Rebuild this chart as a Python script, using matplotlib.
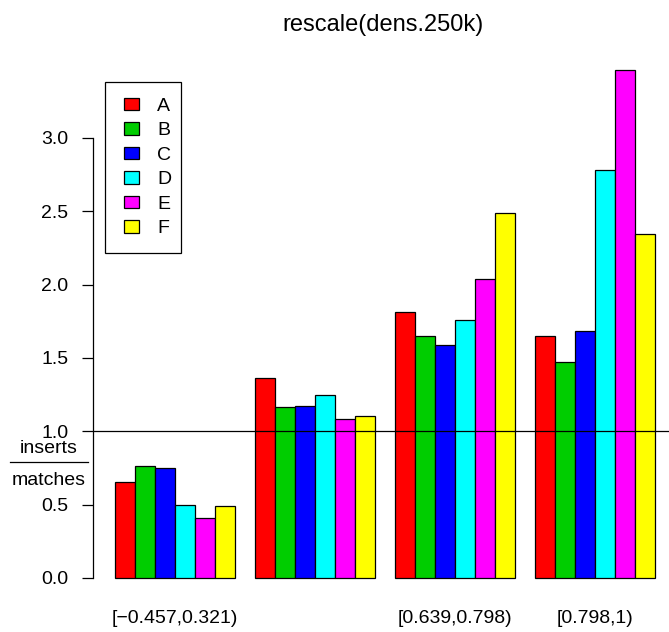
import matplotlib
matplotlib.use("Agg")
import matplotlib.pyplot as plt
import matplotlib.transforms as mtransforms
from matplotlib.patches import Rectangle
import numpy as np

plt.rcParams['font.family'] = ['Liberation Sans', 'DejaVu Sans']

groups = ['[\u22120.457,0.321)', '', '[0.639,0.798)', '[0.798,1)']
series = ['A', 'B', 'C', 'D', 'E', 'F']
colors = ['#FF0000', '#00CD00', '#0000FF', '#00FFFF', '#FF00FF', '#FFFF00']
values = np.array([
    [0.652, 1.364, 1.816, 1.648],  # A
    [0.761, 1.166, 1.652, 1.475],  # B
    [0.748, 1.173, 1.589, 1.684],  # C
    [0.500, 1.248, 1.757, 2.782],  # D
    [0.407, 1.084, 2.039, 3.464],  # E
    [0.494, 1.105, 2.487, 2.345],  # F
])

W, H = 669, 632
fig = plt.figure(figsize=(W / 100, H / 100), dpi=100)
# plot region in pixels (R style)
left, right, top, bottom = 93.4, 676.6, 49.6, 598.3
ax = fig.add_axes([left / W, 1 - bottom / H, (right - left) / W, (bottom - top) / H])

n_s, n_g = values.shape
for j in range(n_s):
    x = 1 + np.arange(n_g) * (n_s + 1) + j + 0.5
    ax.bar(x, values[j], width=1, color=colors[j], edgecolor='black',
           linewidth=0.9, label=series[j], zorder=2)

ymax = values.max()
ax.set_xlim(1 - 0.04 * 27, 28 + 0.04 * 27)
ax.set_ylim(-0.04 * ymax, ymax * 1.04)
ax.axhline(1, color='black', lw=0.9, zorder=3)

for s in ['top', 'right', 'bottom']:
    ax.spines[s].set_visible(False)
ax.spines['left'].set_bounds(0, 3)
ax.spines['left'].set_linewidth(0.9)
ticks = np.arange(0, 3.01, 0.5)
ax.set_yticks(ticks)
ax.set_yticklabels(['%.1f' % v for v in ticks], fontsize=14)
ax.tick_params(axis='y', length=8, width=0.9, pad=10)
ax.set_xticks([])

# group labels below bars
centers = 1 + np.arange(n_g) * (n_s + 1) + n_s / 2
trans = mtransforms.blended_transform_factory(ax.transData, fig.transFigure)
for c, g in zip(centers, groups):
    ax.text(c, 1 - 623 / H, g, transform=trans, ha='center', va='baseline', fontsize=14)

fig.text(383 / W, 1 - 31 / H, 'rescale(dens.250k)', ha='center', va='baseline', fontsize=17)

# fraction y label
fig.text(49 / W, 1 - 453 / H, 'inserts', ha='center', va='baseline', fontsize=14)
fig.text(49 / W, 1 - 485 / H, 'matches', ha='center', va='baseline', fontsize=14)
fig.add_artist(plt.Line2D([10 / W, 88 / W], [1 - 462 / H, 1 - 462 / H], color='black', lw=0.9))

# legend: entries without frame, box drawn separately like R
leg = ax.legend(loc='upper left', bbox_to_anchor=(124 / W, 1 - 97.5 / H),
                bbox_transform=fig.transFigure, frameon=False,
                fontsize=14, handlelength=0.77, handleheight=0.62, handletextpad=0.93,
                labelspacing=0.38, borderpad=0, borderaxespad=0)
fig.add_artist(Rectangle((105 / W, 1 - 253 / H), 76 / W, 171 / H, transform=fig.transFigure,
                         facecolor='none', edgecolor='black', lw=0.9))

fig.savefig('out.png', dpi=100)
